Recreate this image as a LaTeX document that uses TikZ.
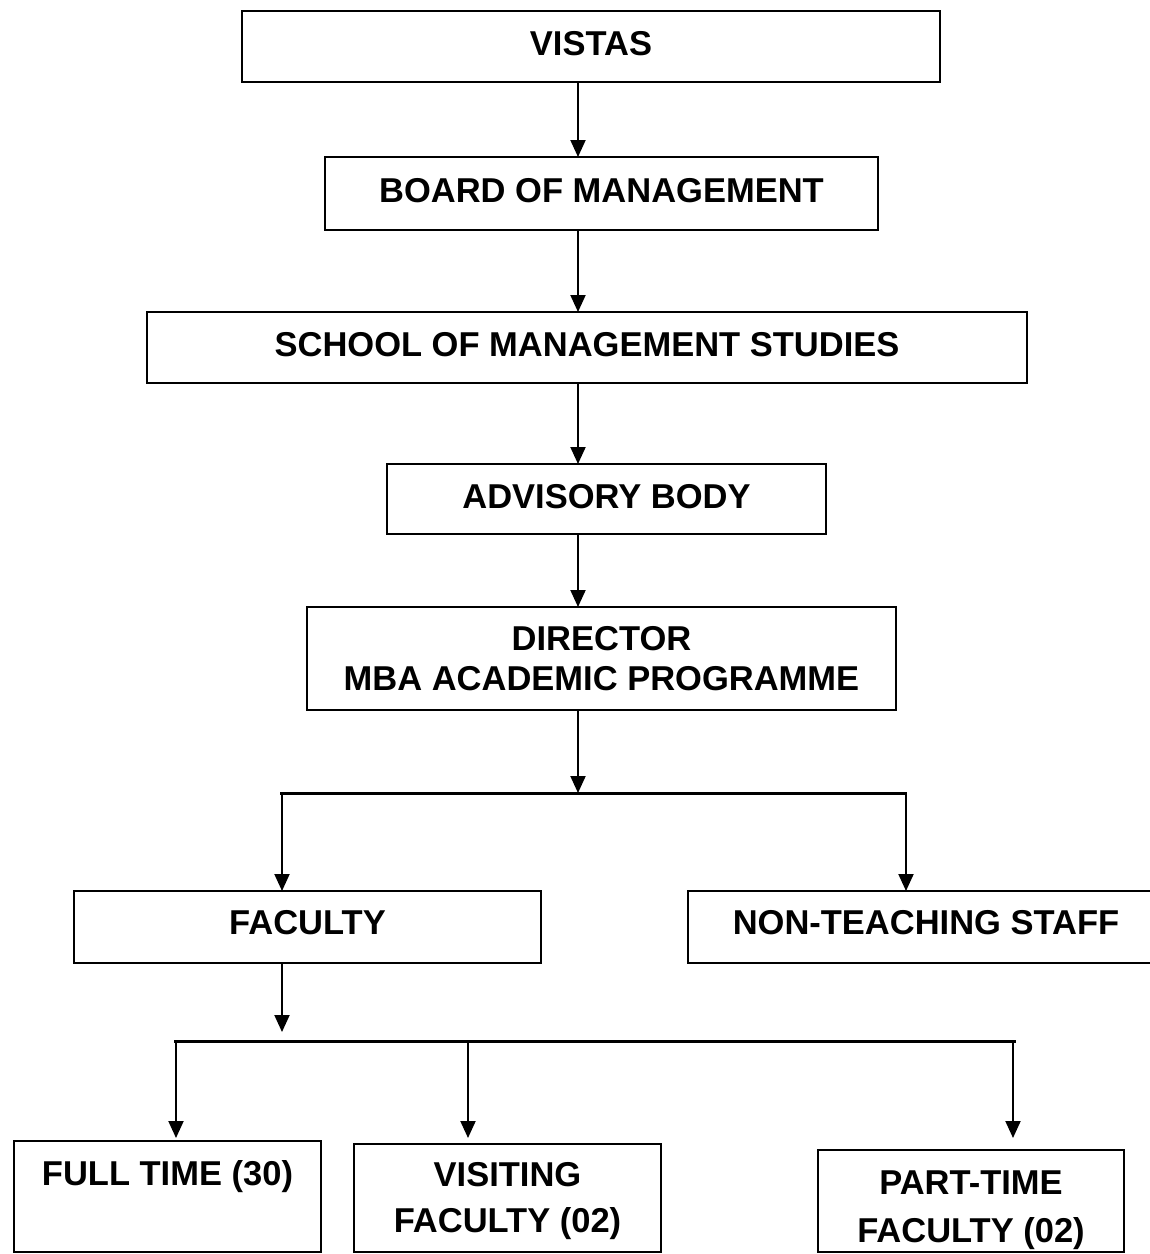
\documentclass[tikz,border=0pt]{standalone}
\usepackage{fontspec}
\setmainfont{Liberation Sans}
\usetikzlibrary{arrows.meta}
\tikzset{
  box/.style={draw, line width=2.2pt, inner sep=0pt, outer sep=0pt, anchor=north west,
    align=center, font=\bfseries\fontsize{34.5}{40}\selectfont},
  arr/.style={-{Triangle[width=15pt,length=17pt]}, line width=2pt},
  hline/.style={line width=3pt}
}
\begin{document}
\begin{tikzpicture}[x=1pt,y=-1pt]
\useasboundingbox (0,0) rectangle (1150,1254);
\fill[white] (0,0) rectangle (1150,1254);
\clip (0,0) rectangle (1150,1254);

% boxes
\node[box, minimum width=698pt, text height=44.5pt, text depth=26.5pt] (vistas) at (242,11) {VISTAS};
\node[box, minimum width=553pt, text height=45.5pt, text depth=27.5pt] (board) at (325,157) {BOARD OF MANAGEMENT};
\node[box, minimum width=880pt, text height=44.5pt, text depth=26.5pt] (school) at (147,312) {SCHOOL OF MANAGEMENT STUDIES};
\node[box, minimum width=439pt, text height=44pt, text depth=26pt] (advisory) at (387,464) {ADVISORY BODY};
\node[box, minimum width=589pt, text height=83pt, text depth=20pt, font=\bfseries\fontsize{34.5}{40}\selectfont] (director) at (307,607) {DIRECTOR\\MBA ACADEMIC PROGRAMME};
\node[box, minimum width=467pt, text height=43pt, text depth=29pt] (faculty) at (74,891) {FACULTY};
\node[box, minimum width=476pt, text height=43pt, text depth=29pt] (nts) at (688,891) {NON-TEACHING STAFF};
\node[box, minimum width=307pt, text height=44pt, text depth=67pt] (ft) at (14,1141) {FULL TIME (30)};
\node[box, minimum width=307pt, text height=88pt, text depth=20pt, font=\bfseries\fontsize{34.5}{46}\selectfont] (vf) at (354,1144) {VISITING\\FACULTY (02)};
\node[box, minimum width=306pt, text height=92pt, text depth=10pt, font=\bfseries\fontsize{34.5}{48}\selectfont] (pt) at (818,1150) {PART-TIME\\FACULTY (02)};

% junction coordinates
\coordinate (ax) at (578,0);
\coordinate (j1) at (578,793);
\coordinate (j1l) at (280,793);
\coordinate (j1r) at (907,793);
\coordinate (j1a) at (282,793);
\coordinate (j1b) at (906,793);
\coordinate (j2tip) at (282,1032);
\coordinate (j2l) at (174,1041);
\coordinate (j2r) at (1016,1041);
\coordinate (b1) at (176,1041);
\coordinate (b2) at (468,1041);
\coordinate (b3) at (1013,1041);

% connectors
\draw[arr] (vistas.south -| ax) -- (board.north -| ax);
\draw[arr] (board.south -| ax) -- (school.north -| ax);
\draw[arr] (school.south -| ax) -- (advisory.north -| ax);
\draw[arr] (advisory.south -| ax) -- (director.north -| ax);
\draw[arr] (director.south -| ax) -- (j1);
\draw[hline] (j1l) -- (j1r);
\draw[arr] (j1a) -- (faculty.north -| j1a);
\draw[arr] (j1b) -- (nts.north -| j1b);
\draw[arr] (faculty.south -| j1a) -- (j2tip);
\draw[hline] (j2l) -- (j2r);
\draw[arr, shorten >=3pt] (b1) -- (ft.north -| b1);
\draw[arr, shorten >=6pt] (b2) -- (vf.north -| b2);
\draw[arr, shorten >=12pt] (b3) -- (pt.north -| b3);
\end{tikzpicture}
\end{document}
